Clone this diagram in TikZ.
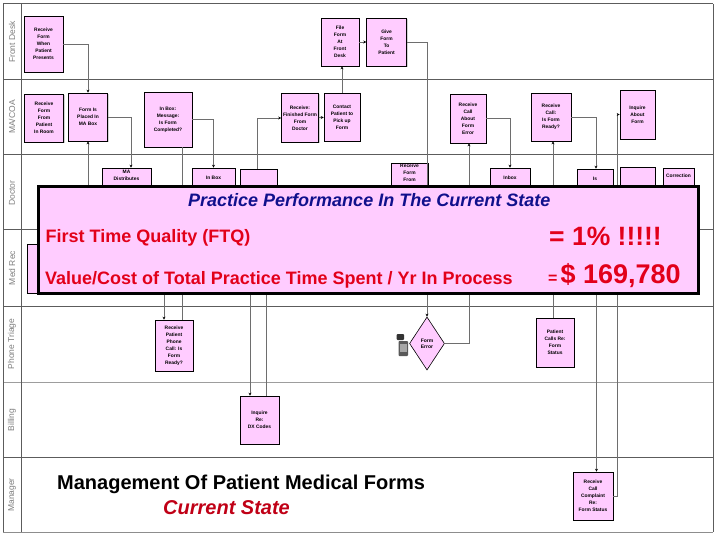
\documentclass[tikz,border=0pt]{standalone}
\usepackage{fontspec}
\setmainfont{Liberation Sans}
\usetikzlibrary{arrows.meta,positioning,shapes.geometric,shadows}
\definecolor{formpink}{HTML}{FFCCFF}
\definecolor{alertred}{HTML}{E2001A}
\definecolor{titlenavy}{HTML}{10108C}
\definecolor{lanegray}{HTML}{5C5C5C}
\definecolor{flowgray}{HTML}{6E6E6E}

\begin{document}
\begin{tikzpicture}[
  x=1pt, y=-1pt,
  task/.style={draw, fill=formpink, align=center, inner sep=1pt, line width=0.6pt, font=\fontsize{4.9}{7}\selectfont\bfseries, drop shadow={shadow xshift=1pt, shadow yshift=-1pt, opacity=0.35}},
  peek/.style={align=center, inner sep=0.5pt, font=\fontsize{4.9}{7}\selectfont\bfseries},
  check/.style={diamond, draw, fill=formpink, align=center, inner sep=0pt, line width=0.6pt, minimum width=35, minimum height=53, font=\fontsize{5}{6}\selectfont\bfseries},
  lane/.style={lanegray, line width=1pt},
  lanelabel/.style={rotate=90, text=lanegray!80, font=\fontsize{8.5}{8.5}\selectfont},
  flow/.style={flowgray, line width=0.6pt},
  >={Stealth[length=3pt, width=3pt, color=black]}
]
\useasboundingbox (0,0) rectangle (720,540);

\draw[lane] (3,4) -- (713,4);
\draw[lane] (3,80) -- (713,80);
\draw[lane] (3,155) -- (713,155);
\draw[lane] (3,230) -- (713,230);
\draw[lane] (3,306) -- (713,306);
\draw[lane, lanegray!60] (3,382) -- (713,382);
\draw[lane] (3,457) -- (713,457);
\draw[lane, lanegray!70] (3,532) -- (713,532);
\draw[lane] (3,4) -- (3,532);
\draw[lane] (21,4) -- (21,532);
\draw[lane] (713,4) -- (713,532);

\node[lanelabel] (lnFront) at (12,42) {Front Desk};
\node[lanelabel] (lnMa) at (12,117) {MA/COA};
\node[lanelabel] (lnDoc) at (12,193) {Doctor};
\node[lanelabel] (lnMed) at (12,268) {Med Rec};
\node[lanelabel] (lnPhone) at (12,344) {Phone Triage};
\node[lanelabel] (lnBill) at (12,420) {Billing};
\node[lanelabel] (lnMgr) at (12,495) {Manager};

\node[task, minimum width=39, minimum height=56] (fdRecv) at (43.5,44) {Receive\\Form\\When\\Patient\\Presents};
\node[task, minimum width=38, minimum height=48] (fdFile) at (340,42) {File\\Form\\At\\Front\\Desk};
\node[task, minimum width=40, minimum height=48, right=7pt of fdFile] (fdGive) {Give\\Form\\To\\Patient};

\node[task, minimum width=39, minimum height=48] (maRecv) at (44,118) {Receive\\Form\\From\\Patient\\In Room};
\node[task, minimum width=39, minimum height=48] (maBox) at (88,117) {Form Is\\Placed In\\MA Box};
\node[task, minimum width=48, minimum height=55] (maInbox) at (168,119.5) {In Box:\\Message:\\Is Form\\Completed?};
\node[task, minimum width=37, minimum height=49] (maFin) at (300,118) {Receive:\\Finished Form\\From\\Doctor};
\node[task, minimum width=36, minimum height=48] (maCont) at (342,117) {Contact\\Patient to\\Pick up\\Form};
\node[task, minimum width=36, minimum height=49] (maErr) at (468,118.5) {Receive\\Call\\About\\Form\\Error};
\node[task, minimum width=40, minimum height=48] (maReady) at (551,117) {Receive\\Call:\\Is Form\\Ready?};
\node[task, minimum width=35, minimum height=49] (maInq) at (637.5,114.5) {Inquire\\About\\Form};

\node[task, minimum width=49, minimum height=48] (drMA) at (126.5,192) {};
\node[peek, below=2pt of drMA.north] (drMAt) {MA\\Distributes};
\node[task, minimum width=43, minimum height=48] (drInbox) at (213.5,192) {};
\node[peek, below=8pt of drInbox.north] (drInboxt) {In Box};
\node[task, minimum width=37, minimum height=48] (drBlank) at (258.5,193) {};
\node[task, minimum width=37, minimum height=50] (drRecv) at (409.5,188) {};
\node[peek, below=0.5pt of drRecv.north] (drRecvt) {Receive\\Form\\From};
\node[task, minimum width=40, minimum height=48] (drInbox2) at (510,192) {};
\node[peek, below=8pt of drInbox2.north] (drInbox2t) {Inbox};
\node[task, minimum width=36, minimum height=48] (drIs) at (595,193) {};
\node[peek, below=8pt of drIs.north] (drIst) {Is};
\node[task, minimum width=35, minimum height=48] (drBlank2) at (637.5,191) {};
\node[task, minimum width=31, minimum height=48] (drCorr) at (678.5,192) {};
\node[peek, below=6pt of drCorr.north] (drCorrt) {Correction};

\node[task, minimum width=46, minimum height=49] (mrBox) at (50,268.5) {};

\node[task, minimum width=38, minimum height=51] (ptCall) at (174,345.5) {Receive\\Patient\\Phone\\Call: Is\\Form\\Ready?};
\node[check] (ptErr) at (427,343.5) {Form\\Error};
\node[task, minimum width=38, minimum height=49] (ptStat) at (555,342.5) {Patient\\Calls Re:\\Form\\Status};

\node[task, minimum width=39, minimum height=48] (biInq) at (259.5,420) {Inquire\\Re:\\DX Codes};

\node[task, minimum width=40, minimum height=48] (mgCall) at (593,496) {Receive\\Call\\Complaint\\Re:\\Form Status};

\fill[black!80, rounded corners=1pt] (396.5,334) rectangle (404,340);
\fill[black!65, rounded corners=0.8pt] (398.5,341) rectangle (408,356);
\fill[black!35] (400,343.5) rectangle (406.5,352);

\coordinate (mrFeed) at (88,250);
\coordinate (drFeed) at (164,262);

\draw[flow, ->] (fdRecv.east) -| (maBox.north);
\draw[flow, ->] (mrFeed) -- (maBox.south);
\draw[flow, ->] (maBox.east) -| ([xshift=4.5]drMA.north);
\draw[flow, ->] (maInbox.east) -| (drInbox.north);
\draw[flow] ([xshift=8]ptCall.north) -- ([xshift=8]ptCall.north |- maInbox.south);
\draw[flow, ->] (drFeed) -- (drFeed |- ptCall.north);
\draw[flow, ->] ([xshift=-1.5]drBlank.north) |- (maFin.west);
\draw[flow, ->] (maFin) -- (maCont);
\draw[flow, ->] (maCont.north) -- (maCont.north |- fdFile.south);
\draw[flow, ->] (fdFile) -- (fdGive);
\draw[flow, ->] (fdGive.east) -| (ptErr.north);
\draw[flow, ->] (ptErr.east) -| ([xshift=1]maErr.south);
\draw[flow, ->] (maErr.east) -| (drInbox2.north);
\draw[flow, ->] (maReady.east) -| ([xshift=1]drIs.north);
\draw[flow, ->] ([xshift=-2]ptStat.north) -- ([xshift=-2]ptStat.north |- maReady.south);
\draw[flow, ->] ([xshift=1.5]drIs.south) -- ([xshift=1.5]drIs.south |- mgCall.north);
\draw[flow, ->] (mgCall.east) -- ++(4,0) |- (maInq.west);
\draw[flow, ->] ([xshift=-8.5]drBlank.south) -- ([xshift=-8.5]drBlank.south |- biInq.north);
\draw[flow] ([xshift=7]biInq.north) -- ([xshift=7]biInq.north |- drBlank.south);

\node[draw=black, line width=3.5pt, fill=formpink, minimum width=659.75, minimum height=106.5, inner sep=0pt] (perf) at (368.6,240) {};
\node[anchor=base west, inner sep=0pt, text=titlenavy, font=\fontsize{18}{18}\selectfont\bfseries\itshape] (perfTitle) at (188,207) {Practice Performance In The Current State};
\node[anchor=base west, inner sep=0pt, text=alertred, font=\fontsize{18}{18}\selectfont\bfseries] (ftqLbl) at (45.5,243) {First Time Quality (FTQ)};
\node[anchor=base west, inner sep=0pt, text=alertred, font=\fontsize{26.5}{26.5}\selectfont\bfseries] (ftqVal) at (549,245) {= 1\% !!!!!};
\node[anchor=base west, inner sep=0pt, text=alertred, font=\bfseries] (costVal) at (548,283) {{\fontsize{16}{16}\selectfont =}\hspace{3pt}{\fontsize{27}{27}\selectfont \$ 169,780}};
\node[anchor=base west, inner sep=0pt, text=alertred, font=\fontsize{18}{18}\selectfont\bfseries] (costLbl) at (45,284) {Value/Cost of Total Practice Time Spent / Yr In Process};

\node[anchor=base west, inner sep=0pt, font=\fontsize{20}{20}\selectfont\bfseries] (mgTitle) at (57,489) {Management Of Patient Medical Forms};
\node[anchor=base west, inner sep=0pt, text=alertred!85!black, font=\fontsize{20}{20}\selectfont\bfseries\itshape] (mgSub) at (163,514) {Current State};
\end{tikzpicture}
\end{document}
